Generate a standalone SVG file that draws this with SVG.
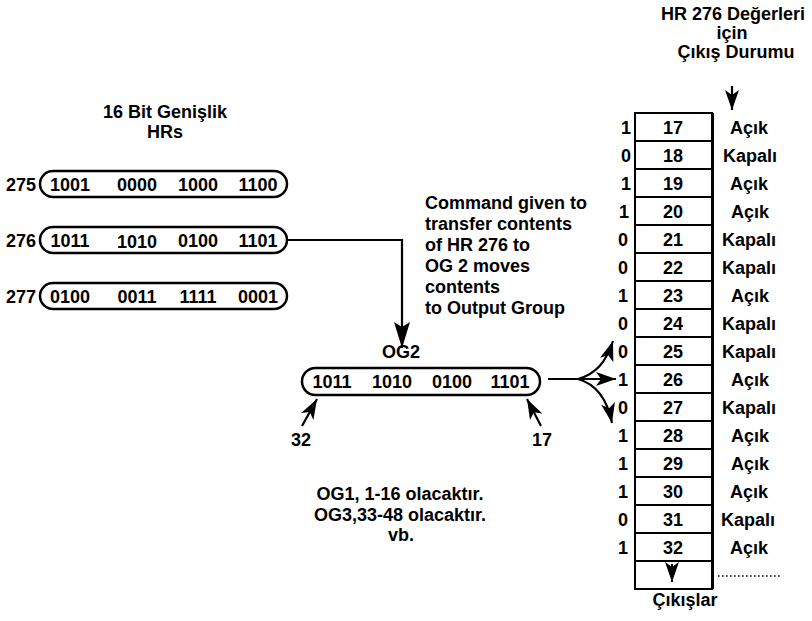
<svg xmlns="http://www.w3.org/2000/svg" width="812" height="621" viewBox="0 0 812 621">
<style>
text{font-family:"Liberation Sans",Arial,sans-serif;fill:#000}
.b{font-weight:bold;font-size:18px}
.d{font-size:18px;font-weight:bold}
.m{text-anchor:middle}
.e{text-anchor:end}
.reg{fill:#fff;stroke:#000;stroke-width:2.5}
.ln{fill:none;stroke:#000;stroke-width:2.2}
.cell{fill:#fff;stroke:#000;stroke-width:2}
</style>
<defs>
<marker id="ah" markerUnits="userSpaceOnUse" markerWidth="22" markerHeight="14" refX="20" refY="7" orient="auto" viewBox="0 0 22 14">
<path d="M0,0 L20,7 L0,14 L5,7 Z" fill="#000"/>
</marker>
<marker id="ahL" markerUnits="userSpaceOnUse" markerWidth="28" markerHeight="16" refX="26" refY="8" orient="auto" viewBox="0 0 28 16">
<path d="M0,0 L26,8 L0,16 L5,8 Z" fill="#000"/>
</marker>
</defs>

<g id="hr-title">
<text class="b m" x="165" y="118">16 Bit Genişlik</text>
<text class="b m" x="165" y="138">HRs</text>
</g>

<g id="hr275">
<text class="d m" x="21" y="191">275</text>
<rect class="reg" x="40" y="171" width="247" height="26" rx="13"/>
<text class="d m" x="70" y="191">1001</text>
<text class="d m" x="137" y="191">0000</text>
<text class="d m" x="198" y="191">1000</text>
<text class="d m" x="258" y="191">1100</text>
</g>

<g id="hr276">
<text class="d m" x="21" y="247">276</text>
<rect class="reg" x="40" y="227" width="247" height="26" rx="13"/>
<text class="d m" x="70" y="247">1011</text>
<text class="d m" x="137" y="248">1010</text>
<text class="d m" x="198" y="247">0100</text>
<text class="d m" x="258" y="247">1101</text>
</g>

<g id="hr277">
<text class="d m" x="21" y="303">277</text>
<rect class="reg" x="40" y="283" width="247" height="26" rx="13"/>
<text class="d m" x="70" y="303">0100</text>
<text class="d m" x="137" y="303">0011</text>
<text class="d m" x="198" y="303">1111</text>
<text class="d m" x="258" y="303">0001</text>
</g>

<g id="command-note">
<text class="b" x="425" y="209">Command given to</text>
<text class="b" x="425" y="230">transfer contents</text>
<text class="b" x="425" y="251">of HR 276 to</text>
<text class="b" x="425" y="272">OG 2 moves</text>
<text class="b" x="425" y="293">contents</text>
<text class="b" x="425" y="314">to Output Group</text>
</g>

<g id="og2">
<text class="b m" x="401" y="358">OG2</text>
<rect class="reg" x="302" y="368" width="238" height="27" rx="13.5"/>
<text class="d m" x="332" y="388">1011</text>
<text class="d m" x="392" y="388">1010</text>
<text class="d m" x="452" y="388">0100</text>
<text class="d m" x="510" y="388">1101</text>
<text class="d m" x="301" y="446">32</text>
<text class="d m" x="542" y="446">17</text>
</g>

<g id="og-note">
<text class="b m" x="400" y="500">OG1, 1-16 olacaktır.</text>
<text class="b m" x="400" y="521">OG3,33-48 olacaktır.</text>
<text class="b m" x="401" y="541">vb.</text>
</g>

<g id="status-title">
<text class="b m" x="733" y="20">HR 276 Değerleri</text>
<text class="b m" x="732" y="39">için</text>
<text class="b m" x="736" y="58">Çıkış Durumu</text>
</g>

<g id="outputs">
<rect class="cell" x="635" y="113" width="77" height="476"/>
<g class="ln" stroke-width="2">
<line x1="635" y1="141" x2="712" y2="141"/>
<line x1="635" y1="169" x2="712" y2="169"/>
<line x1="635" y1="197" x2="712" y2="197"/>
<line x1="635" y1="225" x2="712" y2="225"/>
<line x1="635" y1="253" x2="712" y2="253"/>
<line x1="635" y1="281" x2="712" y2="281"/>
<line x1="635" y1="309" x2="712" y2="309"/>
<line x1="635" y1="337" x2="712" y2="337"/>
<line x1="635" y1="365" x2="712" y2="365"/>
<line x1="635" y1="393" x2="712" y2="393"/>
<line x1="635" y1="421" x2="712" y2="421"/>
<line x1="635" y1="449" x2="712" y2="449"/>
<line x1="635" y1="477" x2="712" y2="477"/>
<line x1="635" y1="505" x2="712" y2="505"/>
<line x1="635" y1="533" x2="712" y2="533"/>
<line x1="635" y1="561" x2="712" y2="561"/>
</g>
<line x1="712.5" y1="113" x2="712.5" y2="589" stroke="#000" stroke-width="3"/>
<g class="d m">
<text x="673" y="134">17</text>
<text x="673" y="162">18</text>
<text x="673" y="190">19</text>
<text x="673" y="218">20</text>
<text x="673" y="246">21</text>
<text x="673" y="274">22</text>
<text x="673" y="302">23</text>
<text x="673" y="330">24</text>
<text x="673" y="358">25</text>
<text x="673" y="386">26</text>
<text x="673" y="414">27</text>
<text x="673" y="442">28</text>
<text x="673" y="470">29</text>
<text x="673" y="498">30</text>
<text x="673" y="526">31</text>
<text x="673" y="554">32</text>
</g>
<g class="d e">
<text x="631" y="134">1</text>
<text x="631" y="162">0</text>
<text x="631" y="190">1</text>
<text x="629" y="218">1</text>
<text x="628" y="246">0</text>
<text x="628" y="274">0</text>
<text x="628" y="302">1</text>
<text x="628" y="330">0</text>
<text x="628" y="358">0</text>
<text x="628" y="386">1</text>
<text x="628" y="414">0</text>
<text x="628" y="442">1</text>
<text x="628" y="470">1</text>
<text x="628" y="498">1</text>
<text x="628" y="526">0</text>
<text x="628" y="554">1</text>
</g>
<g class="b m">
<text x="749" y="134">Açık</text>
<text x="750" y="162">Kapalı</text>
<text x="749" y="190">Açık</text>
<text x="750" y="218">Açık</text>
<text x="749" y="246">Kapalı</text>
<text x="749" y="274">Kapalı</text>
<text x="750" y="302">Açık</text>
<text x="749" y="330">Kapalı</text>
<text x="749" y="358">Kapalı</text>
<text x="750" y="386">Açık</text>
<text x="749" y="414">Kapalı</text>
<text x="750" y="442">Açık</text>
<text x="750" y="470">Açık</text>
<text x="749" y="498">Açık</text>
<text x="748" y="526">Kapalı</text>
<text x="749" y="554">Açık</text>
</g>
<line x1="672" y1="564" x2="672" y2="582" stroke="#000" stroke-width="2" marker-end="url(#ah)"/>
<line x1="718" y1="576" x2="782" y2="576" stroke="#000" stroke-width="1.6" stroke-dasharray="1.6,2.4"/>
<text class="b m" x="685" y="606">Çıkışlar</text>
</g>

<g id="connectors">
<path class="ln" d="M287,240 H402 V348" marker-end="url(#ahL)"/>
<line class="ln" x1="302" y1="426" x2="317" y2="399" marker-end="url(#ah)"/>
<line class="ln" x1="541" y1="426" x2="527" y2="399" marker-end="url(#ah)"/>
<line x1="732" y1="86" x2="732" y2="110" stroke="#000" stroke-width="2.2" marker-end="url(#ah)"/>
<path class="ln" d="M548,379 H616" marker-end="url(#ah)"/>
<path class="ln" d="M578,379 C596,374 606,362 613,341" marker-end="url(#ah)"/>
<path class="ln" d="M578,379 C596,384 607,398 612,423" marker-end="url(#ah)"/>
</g>
</svg>
